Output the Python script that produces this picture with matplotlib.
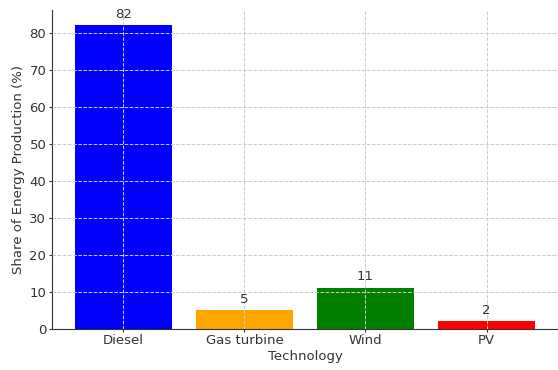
import matplotlib.pyplot as plt

technologies = ["Diesel", "Gas turbine", "Wind", "PV"]
shares = [82, 5, 11, 2]
colors = ["blue", "orange", "green", "red"]

fig = plt.figure(figsize=(5.58, 3.7), dpi=100)
ax = fig.add_axes([0.093, 0.112, 0.907, 0.861])

bars = ax.bar(technologies, shares, color=colors, width=0.8)
for b, v in zip(bars, shares):
    ax.text(b.get_x() + b.get_width() / 2, v + 1.2, str(v),
            ha="center", va="bottom", fontsize=9.5, color="#333333")

ax.set_xlabel("Technology", fontsize=9.5, color="#333333", labelpad=2)
ax.set_ylabel("Share of Energy Production (%)", fontsize=9.5, color="#333333", labelpad=3)
ax.grid(True, linestyle="--", color="#cccccc", linewidth=0.7)
ax.set_axisbelow(False)
ax.spines["top"].set_visible(False)
ax.spines["right"].set_visible(False)
ax.spines["left"].set_color("#333333")
ax.spines["bottom"].set_color("#333333")
ax.tick_params(colors="#333333", labelsize=9.5, length=2, pad=2)
ax.set_yticks(range(0, 90, 10))

fig.savefig("out.png")
